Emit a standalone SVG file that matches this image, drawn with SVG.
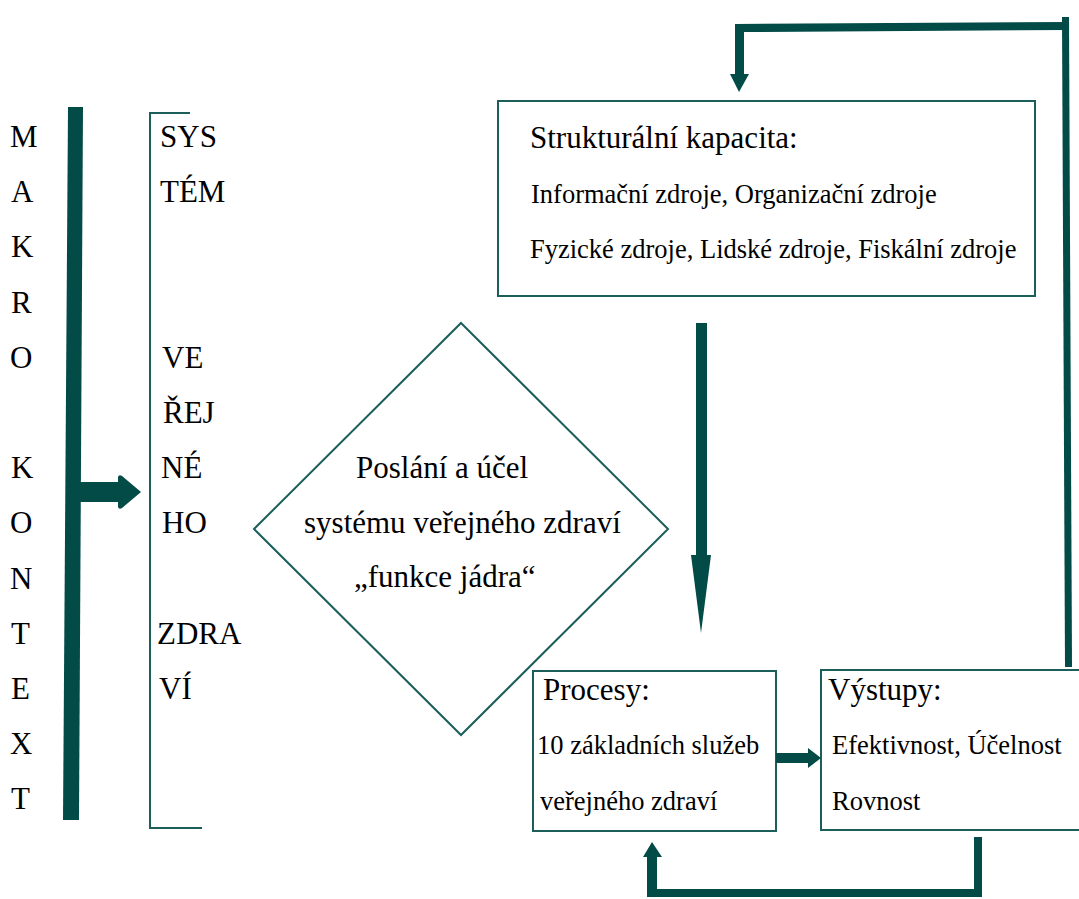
<svg xmlns="http://www.w3.org/2000/svg" width="1079" height="899" viewBox="0 0 1079 899">
<style>
text{font-family:'Liberation Serif','Tinos','Times New Roman','Nimbus Roman','DejaVu Serif',serif;fill:#000}
.big{font-size:31px}
.sm{font-size:26.5px}
.box{fill:#fff;stroke:#1b5e5a;stroke-width:2}
.thin{fill:none;stroke:#1b5e5a;stroke-width:2}
.thick{fill:#034b47;stroke:none}
</style>
<rect width="1079" height="899" fill="#fff"/>
<g id="makro-kontext">
<text class="big" x="10" y="147">M</text>
<text class="big" x="11" y="202">A</text>
<text class="big" x="11" y="257">K</text>
<text class="big" x="11" y="313">R</text>
<text class="big" x="10" y="368">O</text>
<text class="big" x="11" y="478">K</text>
<text class="big" x="10" y="533">O</text>
<text class="big" x="10" y="589">N</text>
<text class="big" x="11" y="644">T</text>
<text class="big" x="11" y="699">E</text>
<text class="big" x="10" y="754">X</text>
<text class="big" x="11" y="809">T</text>
</g>
<g id="system">
<polyline class="thin" points="190,113 150,113 150,828 202,828"/>
<text class="big" x="160" y="147">SYS</text>
<text class="big" x="160" y="202">TÉM</text>
<text class="big" x="162" y="368">VE</text>
<text class="big" x="163" y="423">ŘEJ</text>
<text class="big" x="161" y="478">NÉ</text>
<text class="big" x="162" y="533">HO</text>
<text class="big" x="157" y="644">ZDRA</text>
<text class="big" x="159" y="699">VÍ</text>
</g>
<g id="poslani">
<polygon class="box" points="461,323 668,529 461,735 254,529"/>
<text class="big" x="356" y="478">Poslání a účel</text>
<text class="big" x="304" y="533">systému veřejného zdraví</text>
<text class="big" x="354" y="587">„funkce jádra“</text>
</g>
<g id="strukturalni-kapacita">
<rect class="box" x="498" y="101" width="537" height="195"/>
<text class="big" x="530" y="148">Strukturální kapacita:</text>
<text class="sm" x="531" y="203">Informační zdroje, Organizační zdroje</text>
<text class="sm" x="530" y="258">Fyzické zdroje, Lidské zdroje, Fiskální zdroje</text>
</g>
<g id="procesy">
<rect class="box" x="533" y="671" width="243" height="160"/>
<text class="big" x="543" y="700">Procesy:</text>
<text class="sm" x="537" y="754">10 základních služeb</text>
<text class="sm" x="540" y="810">veřejného zdraví</text>
</g>
<g id="vystupy">
<rect class="box" x="821" y="670" width="270" height="160"/>
<text class="big" x="828" y="700">Výstupy:</text>
<text class="sm" x="832" y="754">Efektivnost, Účelnost</text>
<text class="sm" x="832" y="810">Rovnost</text>
</g>
<g id="connectors">
<polygon class="thick" points="68,107 83,107 79,820 63,820"/>
<path class="thick" d="M79,482 L118,482 L118,477 Q119,474 122,476 L141,492 L122,508 Q119,510 118,507 L118,502 L79,502 Z"/>
<polygon class="thick" points="696,323 707,323 707,555 711,555 701,633 691,555 696,555"/>
<polygon class="thick" points="776,753 808,753 808,748 821,758 808,768 808,763 776,763"/>
<polygon class="thick" points="1062,17 1069,17 1072,667 1065,667"/>
<polygon class="thick" points="735,24 1069,22 1069,30 744,32 744,74 749,74 739,92 730,74 735,74"/>
<polygon class="thick" points="974,837 982,837 982,897 647,897 647,857 643,857 652,842 662,857 657,857 657,889 974,889"/>
</g>
</svg>
